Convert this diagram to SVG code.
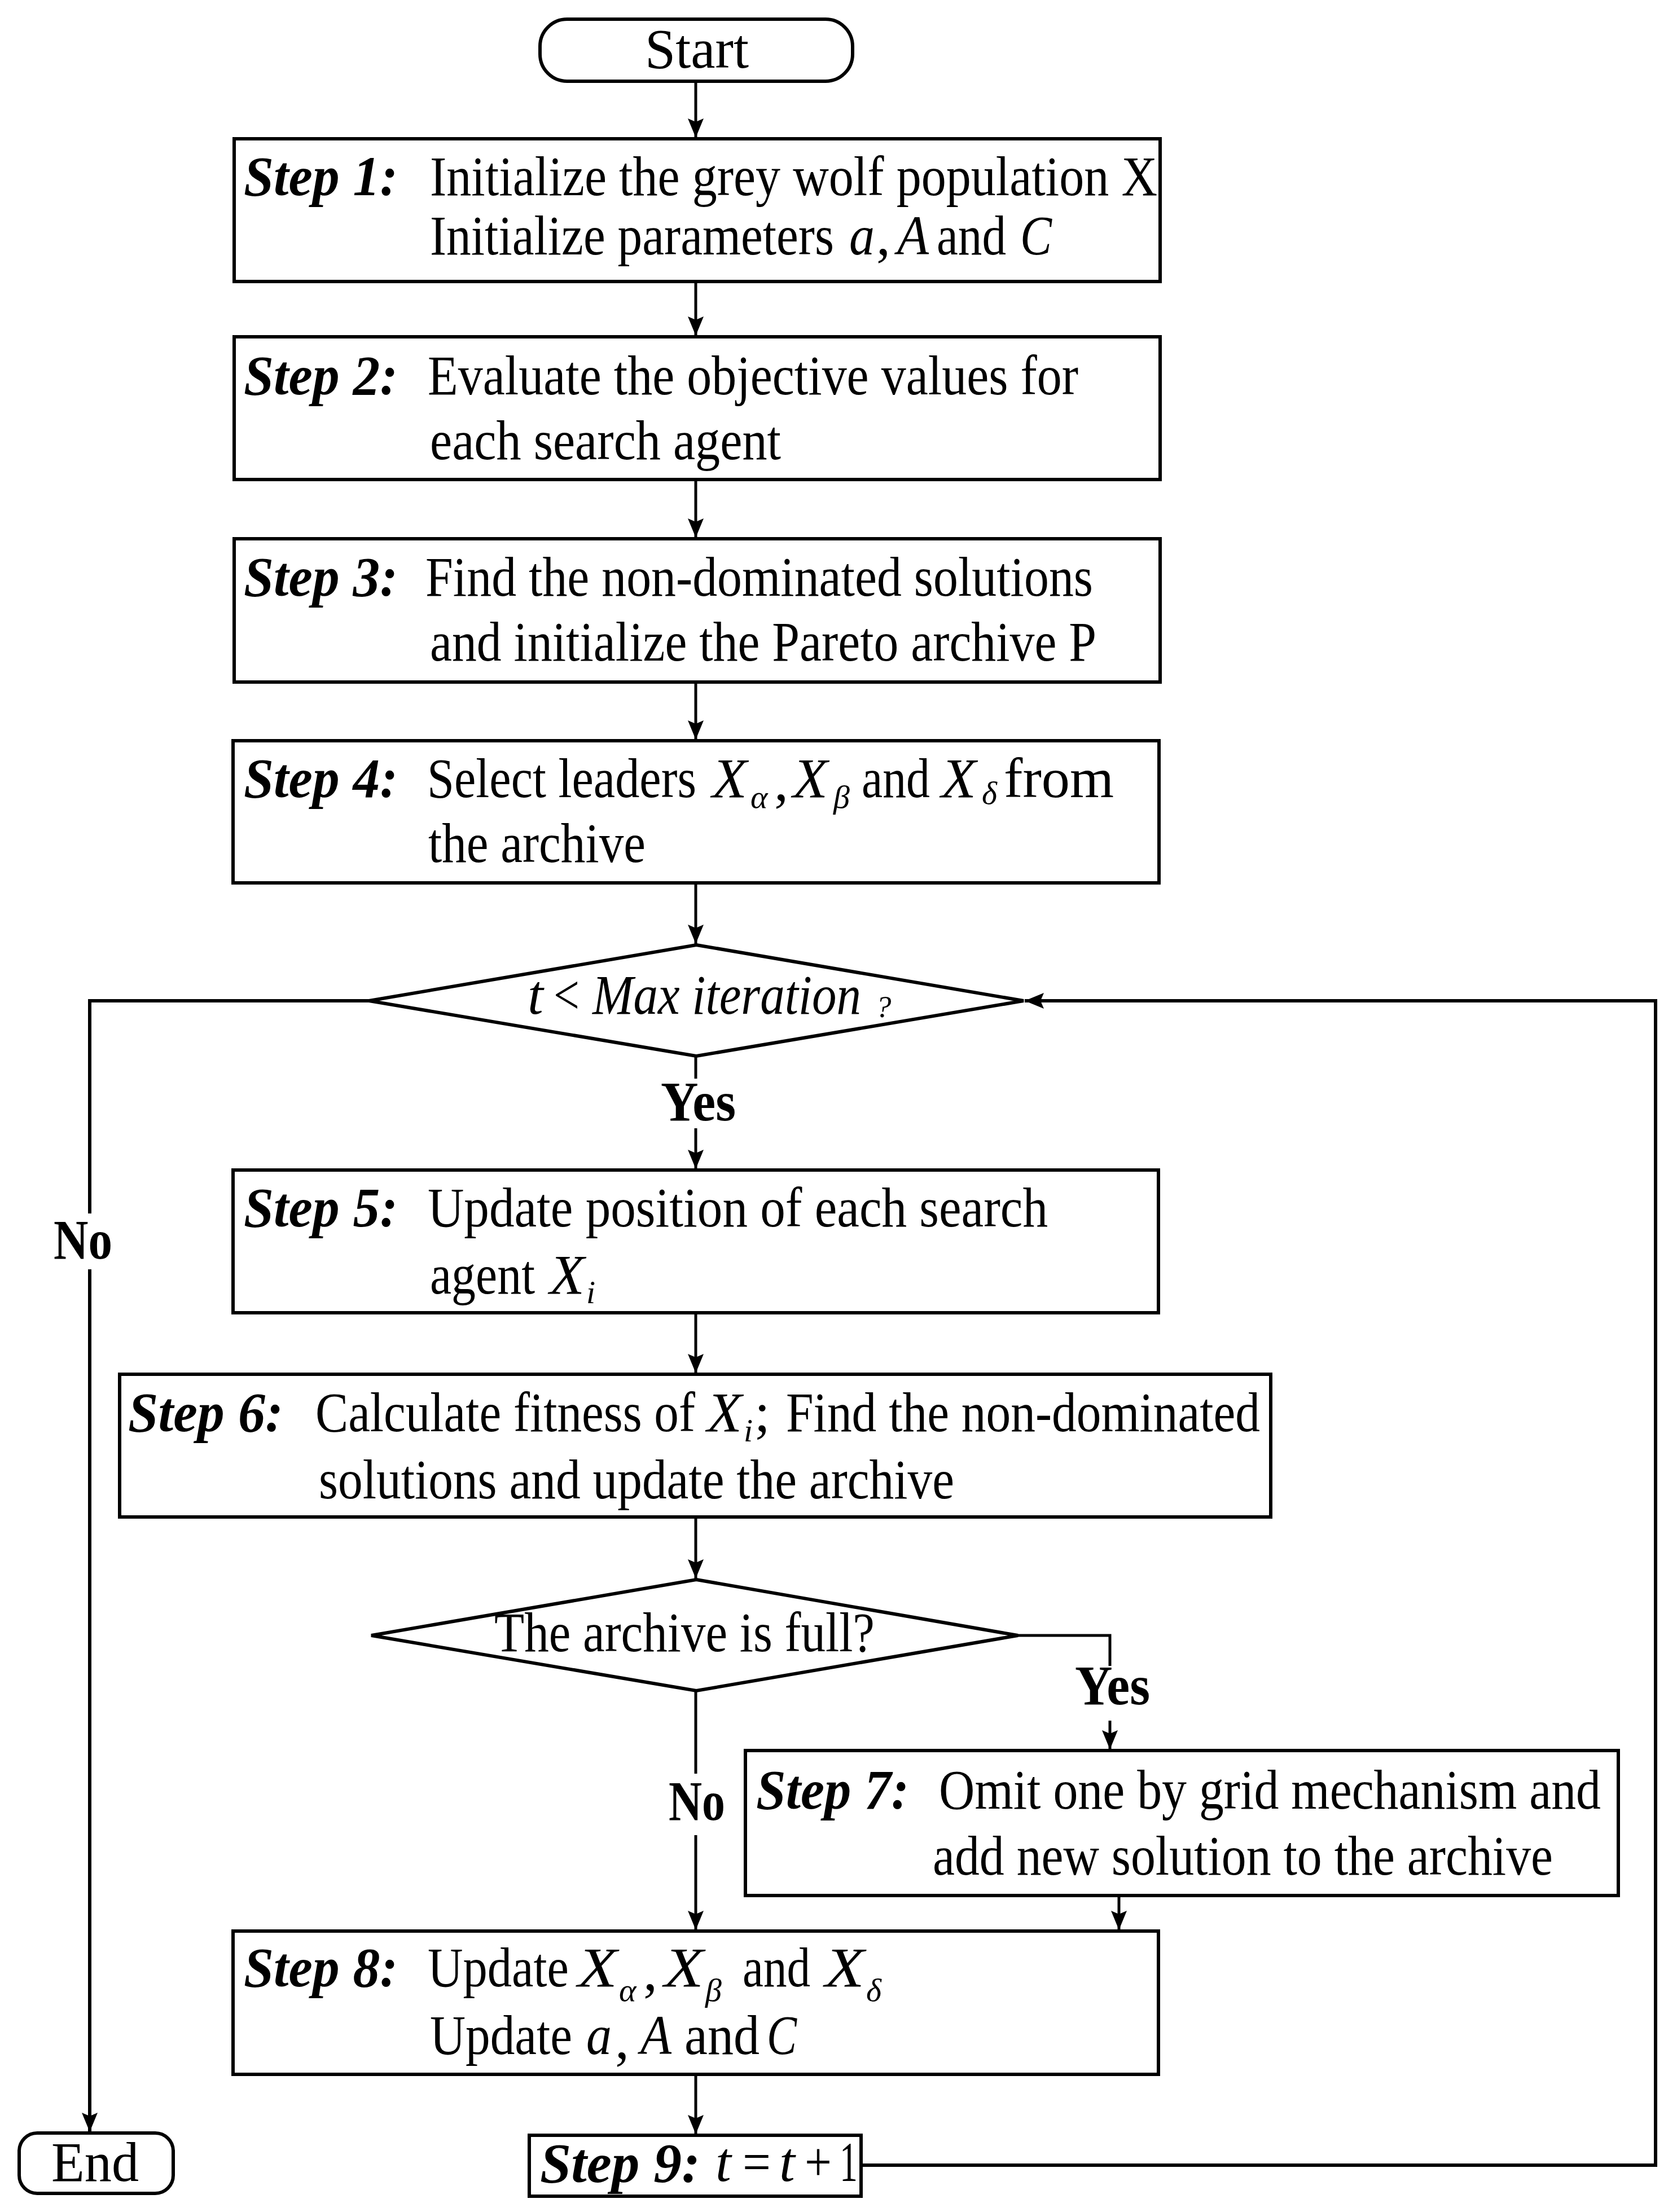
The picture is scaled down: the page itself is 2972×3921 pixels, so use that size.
<svg xmlns="http://www.w3.org/2000/svg" width="2972" height="3921" viewBox="0 0 2972 3921">
<style>
text{font-family:"Liberation Serif","Times New Roman",serif;font-size:100px;fill:#000}
.it{font-style:italic}
.st{font-style:italic;font-weight:bold}
.b{font-weight:bold}
.sub{font-style:italic;font-size:58px}
.box{fill:#fff;stroke:#000;stroke-width:6}
.dia{fill:#fff;stroke:#000;stroke-width:6}
.ln{fill:none;stroke:#000;stroke-width:5}
.lp{fill:none;stroke:#000;stroke-width:6}
</style>
<defs>
<marker id="ah" markerUnits="userSpaceOnUse" markerWidth="36" markerHeight="30" refX="34" refY="14" orient="auto">
<path d="M0,0 L34,14 L0,28 L6,14 z" fill="#000"/>
</marker>
</defs>
<rect width="2972" height="3921" fill="#fff"/>

<g id="connectors">
<line class="ln" x1="1233" y1="144" x2="1233" y2="244" marker-end="url(#ah)"/>
<line class="ln" x1="1233" y1="499" x2="1233" y2="595" marker-end="url(#ah)"/>
<line class="ln" x1="1233" y1="850" x2="1233" y2="953" marker-end="url(#ah)"/>
<line class="ln" x1="1233" y1="1209" x2="1233" y2="1311" marker-end="url(#ah)"/>
<line class="ln" x1="1233" y1="1565" x2="1233" y2="1673" marker-end="url(#ah)"/>
<line class="ln" x1="1233" y1="1872" x2="1233" y2="1912"/>
<line class="ln" x1="1233" y1="2000" x2="1233" y2="2072" marker-end="url(#ah)"/>
<line class="ln" x1="1233" y1="2327" x2="1233" y2="2434" marker-end="url(#ah)"/>
<line class="ln" x1="1233" y1="2689" x2="1233" y2="2798" marker-end="url(#ah)"/>
<line class="ln" x1="1233" y1="2997" x2="1233" y2="3144"/>
<line class="ln" x1="1233" y1="3253" x2="1233" y2="3421" marker-end="url(#ah)"/>
<polyline class="ln" points="1804,2899 1967,2899 1967,2953"/>
<line class="ln" x1="1967" y1="3050" x2="1967" y2="3101" marker-end="url(#ah)"/>
<line class="ln" x1="1983" y1="3360" x2="1983" y2="3421" marker-end="url(#ah)"/>
<line class="ln" x1="1233" y1="3677" x2="1233" y2="3783" marker-end="url(#ah)"/>
<polyline class="lp" points="654,1774 159,1774 159,2151"/>
<line class="lp" x1="159" y1="2250" x2="159" y2="3779" marker-end="url(#ah)"/>
<polyline class="lp" points="1526,3838 2934,3838 2934,1774 1816,1774" marker-end="url(#ah)"/>
</g>

<g id="start">
<rect x="957" y="34" width="554" height="110" rx="48" class="box"/>
<text x="1143" y="120" textLength="184" lengthAdjust="spacingAndGlyphs">Start</text>
</g>

<g id="step1">
<rect x="415" y="246" width="1641" height="253" class="box"/>
<text class="st" x="432" y="346" textLength="273" lengthAdjust="spacingAndGlyphs">Step 1:</text>
<text x="762" y="346" textLength="1289" lengthAdjust="spacingAndGlyphs">Initialize the grey wolf population X</text>
<text x="762" y="451" textLength="716" lengthAdjust="spacingAndGlyphs">Initialize parameters</text>
<text class="it" x="1505" y="451" textLength="45" lengthAdjust="spacingAndGlyphs">a</text>
<text x="1553" y="451">,</text>
<text class="it" x="1590" y="451" textLength="56" lengthAdjust="spacingAndGlyphs">A</text>
<text x="1660" y="451" textLength="123" lengthAdjust="spacingAndGlyphs">and</text>
<text class="it" x="1808" y="451" textLength="56" lengthAdjust="spacingAndGlyphs">C</text>
</g>

<g id="step2">
<rect x="415" y="597" width="1641" height="253" class="box"/>
<text class="st" x="432" y="699" textLength="273" lengthAdjust="spacingAndGlyphs">Step 2:</text>
<text x="758" y="699" textLength="1153" lengthAdjust="spacingAndGlyphs">Evaluate the objective values for</text>
<text x="762" y="814" textLength="622" lengthAdjust="spacingAndGlyphs">each search agent</text>
</g>

<g id="step3">
<rect x="415" y="955" width="1641" height="254" class="box"/>
<text class="st" x="432" y="1056" textLength="273" lengthAdjust="spacingAndGlyphs">Step 3:</text>
<text x="754" y="1056" textLength="1183" lengthAdjust="spacingAndGlyphs">Find the non-dominated solutions</text>
<text x="762" y="1171" textLength="1181" lengthAdjust="spacingAndGlyphs">and initialize the Pareto archive P</text>
</g>

<g id="step4">
<rect x="413" y="1313" width="1641" height="252" class="box"/>
<text class="st" x="432" y="1413" textLength="273" lengthAdjust="spacingAndGlyphs">Step 4:</text>
<text x="757" y="1413" textLength="477" lengthAdjust="spacingAndGlyphs">Select leaders</text>
<text class="it" x="1262" y="1413" textLength="62" lengthAdjust="spacingAndGlyphs">X</text>
<text class="sub" x="1330" y="1432">α</text>
<text x="1372" y="1418">,</text>
<text class="it" x="1405" y="1413" textLength="62" lengthAdjust="spacingAndGlyphs">X</text>
<text class="sub" x="1477" y="1432">β</text>
<text x="1527" y="1413" textLength="121" lengthAdjust="spacingAndGlyphs">and</text>
<text class="it" x="1668" y="1413" textLength="62" lengthAdjust="spacingAndGlyphs">X</text>
<text class="sub" x="1740" y="1425">δ</text>
<text x="1779" y="1413" textLength="195" lengthAdjust="spacingAndGlyphs">from</text>
<text x="759" y="1528" textLength="385" lengthAdjust="spacingAndGlyphs">the archive</text>
</g>

<g id="decision1">
<polygon class="dia" points="1234,1675 1814,1774 1234,1872 654,1774"/>
<text class="it" x="935" y="1797">t</text>
<text x="981" y="1797" textLength="46" lengthAdjust="spacingAndGlyphs">&lt;</text>
<text class="it" x="1050" y="1797" textLength="476" lengthAdjust="spacingAndGlyphs">Max iteration</text>
<text class="it" x="1552" y="1803" style="font-size:55px">?</text>
</g>

<g id="labels">
<text class="b" x="1171" y="1986" textLength="133" lengthAdjust="spacingAndGlyphs">Yes</text>
<text class="b" x="95" y="2231" textLength="104" lengthAdjust="spacingAndGlyphs">No</text>
<text class="b" x="1905" y="3021" textLength="133" lengthAdjust="spacingAndGlyphs">Yes</text>
<text class="b" x="1185" y="3226" textLength="100" lengthAdjust="spacingAndGlyphs">No</text>
</g>

<g id="step5">
<rect x="413" y="2074" width="1640" height="253" class="box"/>
<text class="st" x="432" y="2174" textLength="273" lengthAdjust="spacingAndGlyphs">Step 5:</text>
<text x="758" y="2174" textLength="1099" lengthAdjust="spacingAndGlyphs">Update  position of each search</text>
<text x="762" y="2293" textLength="186" lengthAdjust="spacingAndGlyphs">agent</text>
<text class="it" x="974" y="2293" textLength="62" lengthAdjust="spacingAndGlyphs">X</text>
<text class="sub" x="1039" y="2310">i</text>
</g>

<g id="step6">
<rect x="212" y="2436" width="2040" height="253" class="box"/>
<text class="st" x="227" y="2537" textLength="275" lengthAdjust="spacingAndGlyphs">Step 6:</text>
<text x="559" y="2537" textLength="673" lengthAdjust="spacingAndGlyphs">Calculate fitness of</text>
<text class="it" x="1253" y="2537" textLength="62" lengthAdjust="spacingAndGlyphs">X</text>
<text class="sub" x="1318" y="2555">i</text>
<text x="1337" y="2537">;</text>
<text x="1393" y="2537" textLength="840" lengthAdjust="spacingAndGlyphs">Find the non-dominated</text>
<text x="565" y="2656" textLength="1126" lengthAdjust="spacingAndGlyphs">solutions and update the archive</text>
</g>

<g id="decision2">
<polygon class="dia" points="1234,2800 1804,2899 1234,2997 658,2899"/>
<text x="876" y="2927" textLength="674" lengthAdjust="spacingAndGlyphs">The archive is full?</text>
</g>

<g id="step7">
<rect x="1321" y="3103" width="1547" height="257" class="box"/>
<text class="st" x="1340" y="3206" textLength="271" lengthAdjust="spacingAndGlyphs">Step 7:</text>
<text x="1664" y="3206" textLength="1173" lengthAdjust="spacingAndGlyphs">Omit one by grid mechanism and</text>
<text x="1653" y="3323" textLength="1099" lengthAdjust="spacingAndGlyphs">add new solution to the archive</text>
</g>

<g id="step8">
<rect x="413" y="3423" width="1640" height="254" class="box"/>
<text class="st" x="432" y="3521" textLength="273" lengthAdjust="spacingAndGlyphs">Step 8:</text>
<text x="758" y="3521" textLength="250" lengthAdjust="spacingAndGlyphs">Update</text>
<text class="it" x="1024" y="3521" textLength="70" lengthAdjust="spacingAndGlyphs">X</text>
<text class="sub" x="1097" y="3547">α</text>
<text x="1140" y="3527">,</text>
<text class="it" x="1177" y="3521" textLength="70" lengthAdjust="spacingAndGlyphs">X</text>
<text class="sub" x="1250" y="3547">β</text>
<text x="1316" y="3521" textLength="120" lengthAdjust="spacingAndGlyphs">and</text>
<text class="it" x="1462" y="3521" textLength="70" lengthAdjust="spacingAndGlyphs">X</text>
<text class="sub" x="1535" y="3547">δ</text>
<text x="762" y="3641" textLength="252" lengthAdjust="spacingAndGlyphs">Update</text>
<text class="it" x="1039" y="3641" textLength="45" lengthAdjust="spacingAndGlyphs">a</text>
<text x="1090" y="3648">,</text>
<text class="it" x="1135" y="3641" textLength="55" lengthAdjust="spacingAndGlyphs">A</text>
<text x="1213" y="3641" textLength="133" lengthAdjust="spacingAndGlyphs">and</text>
<text class="it" x="1359" y="3641" textLength="53" lengthAdjust="spacingAndGlyphs">C</text>
</g>

<g id="step9">
<rect x="938" y="3785" width="588" height="108" class="box"/>
<text class="st" x="957" y="3868" textLength="284" lengthAdjust="spacingAndGlyphs">Step 9:</text>
<text class="it" x="1268" y="3866">t</text>
<text x="1316" y="3866" textLength="50" lengthAdjust="spacingAndGlyphs">=</text>
<text class="it" x="1381" y="3866">t</text>
<text x="1426" y="3866" textLength="48" lengthAdjust="spacingAndGlyphs">+</text>
<text x="1488" y="3866" textLength="32" lengthAdjust="spacingAndGlyphs">1</text>
</g>

<g id="end">
<rect x="34" y="3781" width="273" height="107" rx="32" class="box"/>
<text x="91" y="3866" textLength="155" lengthAdjust="spacingAndGlyphs">End</text>
</g>
</svg>
